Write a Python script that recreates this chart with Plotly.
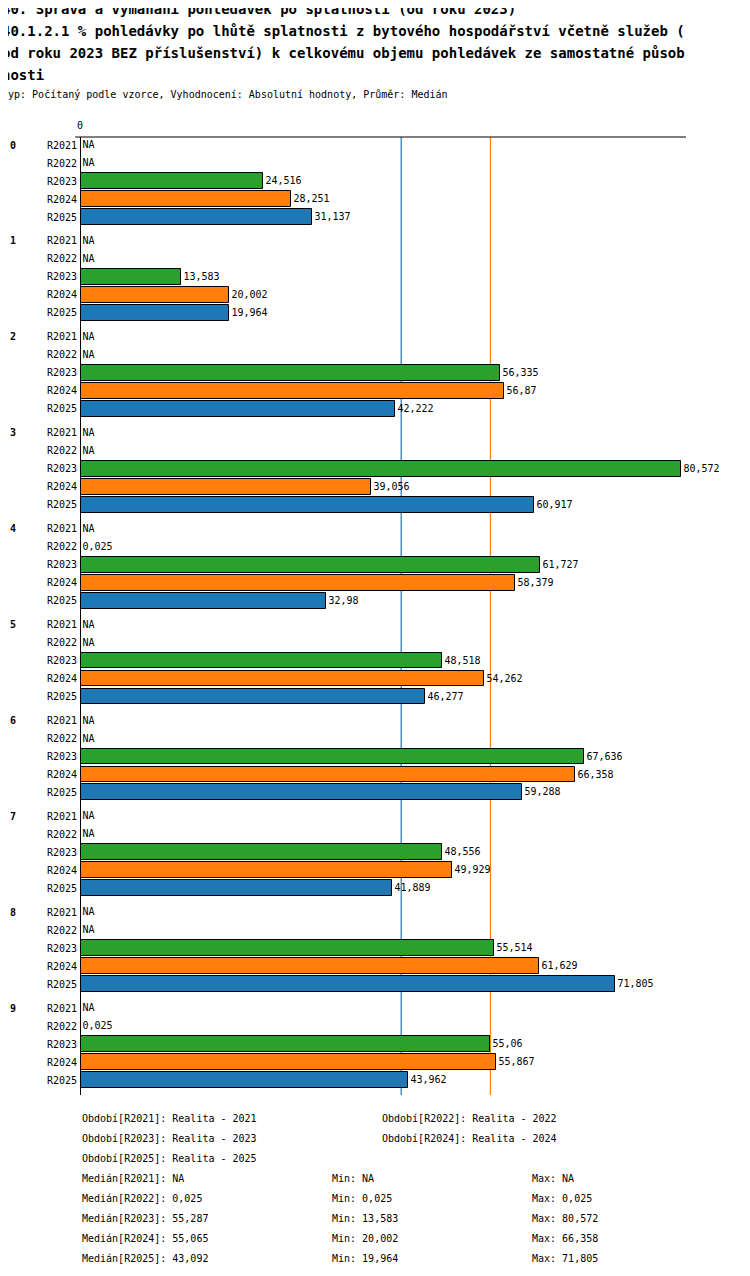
import plotly.graph_objects as go

groups = ["0","1","2","3","4","5","6","7","8","9"]
periods = ["R2021","R2022","R2023","R2024","R2025"]
values = {
 "R2021": [None]*10,
 "R2022": [None,None,None,None,0.025,None,None,None,None,0.025],
 "R2023": [24.516,13.583,56.335,80.572,61.727,48.518,67.636,48.556,55.514,55.06],
 "R2024": [28.251,20.002,56.87,39.056,58.379,54.262,66.358,49.929,61.629,55.867],
 "R2025": [31.137,19.964,42.222,60.917,32.98,46.277,59.288,41.889,71.805,43.962],
}
colors = {"R2021":"#d62728","R2022":"#9467bd","R2023":"#2ca02c","R2024":"#ff7f0e","R2025":"#1f77b4"}
medians = {"R2024":55.065,"R2025":43.092}
legend_lines = [
 ["Období[R2021]: Realita - 2021", "Období[R2022]: Realita - 2022"],
 ["Období[R2023]: Realita - 2023", "Období[R2024]: Realita - 2024"],
 ["Období[R2025]: Realita - 2025"],
]
stats = [
 ["Medián[R2021]: NA","Min: NA","Max: NA"],
 ["Medián[R2022]: 0,025","Min: 0,025","Max: 0,025"],
 ["Medián[R2023]: 55,287","Min: 13,583","Max: 80,572"],
 ["Medián[R2024]: 55,065","Min: 20,002","Max: 66,358"],
 ["Medián[R2025]: 43,092","Min: 19,964","Max: 71,805"],
]
title_lines = [
 "40. Správa a vymáhání pohledávek po splatnosti (od roku 2023)",
 "40.1.2.1 % pohledávky po lhůtě splatnosti z bytového hospodářství včetně služeb (",
 "od roku 2023 BEZ příslušenství) k celkovému objemu pohledávek ze samostatné působ",
 "nosti",
]
subtitle = "Typ: Počítaný podle vzorce, Vyhodnocení: Absolutní hodnoty, Průměr: Medián"

FONT = "DejaVu Sans Mono"
GS = 16/3
def fmt(v): return "NA" if v is None else ("%g" % v).replace(".", ",")

fig = go.Figure()
tickvals, ticktext = [], []
for pi, p in enumerate(periods):
    ys = [gi*GS+pi for gi in range(len(groups))]
    xs = [v if v is not None else 0 for v in values[p]]
    fig.add_trace(go.Bar(x=xs, y=ys, orientation="h", width=0.88,
        marker=dict(color=colors[p], line=dict(color="black", width=1)),
        text=[fmt(v) for v in values[p]], textposition="outside", cliponaxis=False,
        textfont=dict(family=FONT, size=10, color="black"), showlegend=False))
    tickvals += ys; ticktext += [p]*len(ys)

shapes = []
for p, m in medians.items():
    shapes.append(dict(type="line", xref="x", yref="paper", x0=m, x1=m, y0=0, y1=1,
                       line=dict(color=colors[p], width=1.2), layer="below"))
shapes.append(dict(type="line", xref="paper", yref="paper", x0=-0.008, x1=1, y0=1, y1=1, line=dict(color="black", width=1)))
shapes.append(dict(type="line", xref="x", yref="paper", x0=0, x1=0, y0=0, y1=1, line=dict(color="black", width=2)))

ann = []
def px(xp, yp, t, size=10, bold=False):
    ann.append(dict(x=(xp-80)/606, y=(1095-yp)/958, xref="paper", yref="paper",
                    text=("<b>%s</b>" % t) if bold else t, showarrow=False,
                    xanchor="left", yanchor="middle", font=dict(family=FONT, size=size, color="black")))
for gi, g in enumerate(groups):
    ann.append(dict(x=(8-80)/606, xref="paper", y=gi*GS, yref="y", text="<b>"+g+"</b>",
                    showarrow=False, xanchor="left", font=dict(family=FONT, size=10)))
ann.append(dict(x=0, xref="x", y=1, yref="paper", text="0", showarrow=False, yanchor="bottom", yshift=4,
                font=dict(family=FONT, size=10)))
for i, row in enumerate(legend_lines):
    for j, t in enumerate(row):
        px(80+300*j, 1118+20*i, t)
for i, row in enumerate(stats):
    for j, t in enumerate(row):
        px([80,330,530][j], 1178+20*i, t)
for i, t in enumerate(title_lines):
    px(0, 9+22*i, t, size=14, bold=True)
px(0, 95, subtitle)

fig.update_layout(width=750, height=1276, margin=dict(l=72, r=72, t=129, b=189),
    plot_bgcolor="white", paper_bgcolor="white", bargap=0, shapes=shapes, annotations=ann,
    font=dict(family=FONT, size=10, color="black"))
fig.update_xaxes(range=[0, 81.3], showticklabels=False, showgrid=False, zeroline=False, showline=False)
fig.update_yaxes(range=[52.83, -0.45], tickvals=tickvals, ticktext=ticktext, showgrid=False, zeroline=False,
                 ticks="", tickfont=dict(family=FONT, size=10), ticklabelstandoff=2)
fig.write_html("out.html")
